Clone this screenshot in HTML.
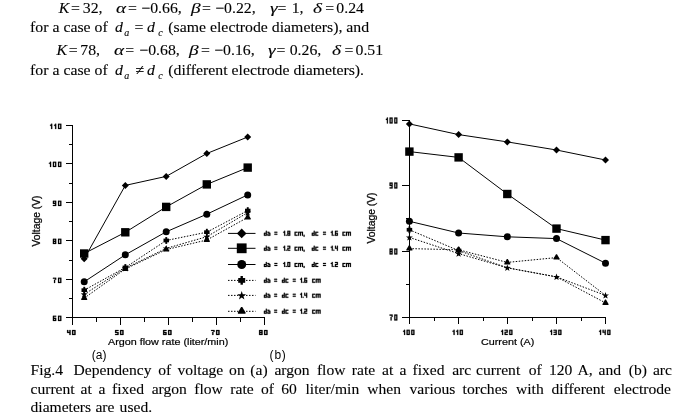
<!DOCTYPE html>
<html><head><meta charset="utf-8"><title>Fig.4</title>
<style>
html,body{margin:0;padding:0;background:#fff}
body{width:683px;height:420px;position:relative;overflow:hidden;font-family:"Liberation Serif",serif;color:#000}
.ln{position:absolute;left:0;height:0;width:683px;transform:scaleY(0.95);transform-origin:0 0}
.k{position:absolute;white-space:nowrap;-webkit-text-stroke:0.12px #000;font-size:15.8px;line-height:20px}
.i{font-style:italic}
.g{transform:scaleX(1.22);transform-origin:0 0}
.sub{font-size:10px;font-style:italic}
.cap{position:absolute;left:30.5px;top:361.2px;width:640.5px;font-size:15.8px;line-height:19.3px;text-align:justify;transform:scaleY(0.95);transform-origin:0 0}
.s{position:absolute;white-space:nowrap;font-family:"Liberation Sans",sans-serif;font-weight:bold;font-size:7.2px;line-height:8px;-webkit-text-stroke:0.2px #000}
.lg{font-size:7px;letter-spacing:0.15px;word-spacing:3.3px;transform:scaleX(0.8);transform-origin:0 0}
.a{position:absolute;white-space:nowrap;font-family:"Liberation Sans",sans-serif;font-size:9.2px;line-height:10px}
.vl{font-size:10.3px;transform:translate(-50%,-50%) rotate(-90deg);-webkit-text-stroke:0.25px #000}
.ax{-webkit-text-stroke:0.2px #000;transform:scaleX(1.172);transform-origin:0 0}
.r{text-align:right;width:40px}
.c{text-align:center;width:40px}
.p{position:absolute;white-space:nowrap;font-family:"Liberation Sans",sans-serif;font-size:12px;line-height:14px}
</style></head><body><div id="w" style="position:absolute;left:0;top:0;width:683px;height:420px;will-change:transform;opacity:0.999">
<div class="ln" style="top:12.6px"><span class="k i" style="left:58.74px;top:-15.33px">K</span><span class="k" style="left:71.00px;top:-15.33px">=</span><span class="k" style="left:82.80px;top:-15.33px">32,</span><span class="k i g" style="left:116.30px;top:-15.33px">α</span><span class="k" style="left:128.10px;top:-15.33px">=</span><span class="k" style="left:141.30px;top:-15.33px">−0.66,</span><span class="k i g" style="left:190.52px;top:-15.33px">β</span><span class="k" style="left:202.10px;top:-15.33px">=</span><span class="k" style="left:215.20px;top:-15.33px">−0.22,</span><span class="k i g" style="left:269.60px;top:-15.33px">γ</span><span class="k" style="left:277.60px;top:-15.33px">=</span><span class="k" style="left:291.70px;top:-15.33px">1,</span><span class="k i g" style="left:312.70px;top:-15.33px">δ</span><span class="k" style="left:325.20px;top:-15.33px">=</span><span class="k" style="left:336.30px;top:-15.33px">0.24</span></div><div class="ln" style="top:32.4px"><span class="k" style="left:30.10px;top:-15.33px">for a case of</span><span class="k i" style="left:115.00px;top:-15.33px">d</span><span class="k sub" style="left:124.20px;top:-9.07px">a</span><span class="k" style="left:134.60px;top:-15.33px">=</span><span class="k i" style="left:147.00px;top:-15.33px">d</span><span class="k sub" style="left:158.30px;top:-9.07px">c</span><span class="k" style="left:168.30px;top:-15.33px">(same electrode diameters), and</span></div><div class="ln" style="top:55.1px"><span class="k i" style="left:56.44px;top:-15.33px">K</span><span class="k" style="left:68.80px;top:-15.33px">=</span><span class="k" style="left:80.30px;top:-15.33px">78,</span><span class="k i g" style="left:113.50px;top:-15.33px">α</span><span class="k" style="left:125.30px;top:-15.33px">=</span><span class="k" style="left:139.30px;top:-15.33px">−0.68,</span><span class="k i g" style="left:188.92px;top:-15.33px">β</span><span class="k" style="left:201.00px;top:-15.33px">=</span><span class="k" style="left:214.20px;top:-15.33px">−0.16,</span><span class="k i g" style="left:267.60px;top:-15.33px">γ</span><span class="k" style="left:276.60px;top:-15.33px">=</span><span class="k" style="left:289.70px;top:-15.33px">0.26,</span><span class="k i g" style="left:331.90px;top:-15.33px">δ</span><span class="k" style="left:344.40px;top:-15.33px">=</span><span class="k" style="left:355.50px;top:-15.33px">0.51</span></div><div class="ln" style="top:75.3px"><span class="k" style="left:30.10px;top:-15.33px">for a case of</span><span class="k i" style="left:115.00px;top:-15.33px">d</span><span class="k sub" style="left:124.20px;top:-9.07px">a</span><span class="k" style="left:135.30px;top:-15.33px">≠</span><span class="k i" style="left:147.00px;top:-15.33px">d</span><span class="k sub" style="left:158.30px;top:-9.07px">c</span><span class="k" style="left:168.30px;top:-15.33px">(different electrode diameters).</span></div>
<svg width="683" height="420" viewBox="0 0 683 420" style="position:absolute;left:0;top:0"><g stroke="#000" stroke-width="1" fill="none" shape-rendering="crispEdges"><path d="M72.5 125V317.5H265"/><path d="M66 317.5H72.5"/><path d="M69 298.51H72.5"/><path d="M66 279.5H72.5"/><path d="M69 260.01H72.5"/><path d="M66 240.5H72.5"/><path d="M69 221.51H72.5"/><path d="M66 202.5H72.5"/><path d="M69 183.01H72.5"/><path d="M66 163.5H72.5"/><path d="M69 144.51H72.5"/><path d="M66 125.5H72.5"/><path d="M72.5 317.5V325"/><path d="M96.5 317.5V322"/><path d="M120.5 317.5V325"/><path d="M144.5 317.5V322"/><path d="M168.5 317.5V325"/><path d="M192.5 317.5V322"/><path d="M216.5 317.5V325"/><path d="M240.5 317.5V322"/><path d="M264.5 317.5V325"/><path d="M409.5 120V317.5H606"/><path d="M402 317.5H409.5"/><path d="M406 284.51H409.5"/><path d="M402 251.5H409.5"/><path d="M406 218.51H409.5"/><path d="M402 185.5H409.5"/><path d="M406 153.01H409.5"/><path d="M402 120.5H409.5"/><path d="M409.5 317.5V324"/><path d="M434.0 317.5V321"/><path d="M458.5 317.5V324"/><path d="M483.0 317.5V321"/><path d="M507.5 317.5V324"/><path d="M532.0 317.5V321"/><path d="M556.5 317.5V324"/><path d="M581.0 317.5V321"/><path d="M605.5 317.5V324"/></g><g stroke="#000" stroke-width="1" fill="none"><polyline points="84.2,258.8 125.3,185.4 166.2,176.4 206.8,153.5 247.7,137.0"/><polyline points="84.2,253.5 125.3,232.3 166.2,206.9 206.8,184.4 247.7,167.6"/><polyline points="84.2,281.8 125.3,254.8 166.2,231.8 206.8,214.2 247.7,194.9"/><polyline points="409.4,123.9 458.6,134.6 507.3,141.9 556.5,150.0 605.5,160.0"/><polyline points="409.4,151.6 458.6,157.4 507.3,194.0 556.5,228.6 605.5,240.1"/><polyline points="409.4,221.3 458.6,233.0 507.3,236.8 556.5,238.6 605.5,263.2"/></g><g stroke="#000" stroke-width="1" fill="none" stroke-dasharray="1.5 1.5"><polyline points="84.2,290.2 125.3,267.5 166.2,240.5 206.8,232.2 247.7,210.6"/><polyline points="84.2,294.3 125.3,268.2 166.2,248.4 206.8,236.7 247.7,212.6"/><polyline points="84.2,298.1 125.3,269.0 166.2,249.6 206.8,240.0 247.7,217.4"/><polyline points="409.4,229.8 458.6,250.6 507.3,267.8 556.5,276.9 605.5,295.4"/><polyline points="409.4,237.4 458.6,253.6 507.3,267.8 556.5,276.9 605.5,302.9"/><polyline points="409.4,248.6 458.6,249.8 507.3,262.4 556.5,257.6 605.5,295.4"/></g><g fill="#000" stroke="none"><path d="M84.2 255.3L87.7 258.8L84.2 262.3L80.7 258.8Z"/><path d="M125.3 181.9L128.8 185.4L125.3 188.9L121.8 185.4Z"/><path d="M166.2 172.9L169.7 176.4L166.2 179.9L162.7 176.4Z"/><path d="M206.8 150.0L210.3 153.5L206.8 157.0L203.3 153.5Z"/><path d="M247.7 133.5L251.2 137.0L247.7 140.5L244.2 137.0Z"/><rect x="80.0" y="249.3" width="8.4" height="8.4"/><rect x="121.1" y="228.1" width="8.4" height="8.4"/><rect x="162.0" y="202.7" width="8.4" height="8.4"/><rect x="202.6" y="180.2" width="8.4" height="8.4"/><rect x="243.5" y="163.4" width="8.4" height="8.4"/><circle cx="84.2" cy="281.8" r="3.5"/><circle cx="125.3" cy="254.8" r="3.5"/><circle cx="166.2" cy="231.8" r="3.5"/><circle cx="206.8" cy="214.2" r="3.5"/><circle cx="247.7" cy="194.9" r="3.5"/><rect x="81.5" y="288.3" width="5.5" height="3.7"/><rect x="83.3" y="286.8" width="1.9" height="6.8"/><rect x="122.6" y="265.6" width="5.5" height="3.7"/><rect x="124.4" y="264.1" width="1.9" height="6.8"/><rect x="163.5" y="238.6" width="5.5" height="3.7"/><rect x="165.3" y="237.1" width="1.9" height="6.8"/><rect x="204.1" y="230.3" width="5.5" height="3.7"/><rect x="205.9" y="228.8" width="1.9" height="6.8"/><rect x="245.0" y="208.7" width="5.5" height="3.7"/><rect x="246.8" y="207.2" width="1.9" height="6.8"/><path d="M84.2 290.9L85.1 293.3L87.7 293.4L85.6 295.0L86.4 297.5L84.2 296.1L82.0 297.5L82.8 295.0L80.7 293.4L83.3 293.3Z"/><path d="M125.3 264.8L126.2 267.2L128.8 267.3L126.7 268.9L127.5 271.4L125.3 270.0L123.1 271.4L123.9 268.9L121.8 267.3L124.4 267.2Z"/><path d="M166.2 245.0L167.1 247.4L169.7 247.5L167.6 249.1L168.4 251.6L166.2 250.2L164.0 251.6L164.8 249.1L162.7 247.5L165.3 247.4Z"/><path d="M206.8 233.3L207.7 235.7L210.3 235.8L208.2 237.4L209.0 239.9L206.8 238.5L204.6 239.9L205.4 237.4L203.3 235.8L205.9 235.7Z"/><path d="M247.7 209.2L248.6 211.6L251.2 211.7L249.1 213.3L249.9 215.8L247.7 214.4L245.5 215.8L246.3 213.3L244.2 211.7L246.8 211.6Z"/><path d="M83.7 294.7h1.0L87.2 299.1V300.1H81.2V299.1Z"/><path d="M124.8 265.6h1.0L128.3 270.0V271.0H122.3V270.0Z"/><path d="M165.7 246.2h1.0L169.2 250.6V251.6H163.2V250.6Z"/><path d="M206.3 236.6h1.0L209.8 241.0V242.0H203.8V241.0Z"/><path d="M247.2 214.0h1.0L250.7 218.4V219.4H244.7V218.4Z"/><path d="M409.4 120.4L412.9 123.9L409.4 127.4L405.9 123.9Z"/><path d="M458.6 131.1L462.1 134.6L458.6 138.1L455.1 134.6Z"/><path d="M507.3 138.4L510.8 141.9L507.3 145.4L503.8 141.9Z"/><path d="M556.5 146.5L560.0 150.0L556.5 153.5L553.0 150.0Z"/><path d="M605.5 156.5L609.0 160.0L605.5 163.5L602.0 160.0Z"/><rect x="405.2" y="147.4" width="8.4" height="8.4"/><rect x="454.4" y="153.2" width="8.4" height="8.4"/><rect x="503.1" y="189.8" width="8.4" height="8.4"/><rect x="552.3" y="224.4" width="8.4" height="8.4"/><rect x="601.3" y="235.9" width="8.4" height="8.4"/><circle cx="409.4" cy="221.3" r="3.5"/><circle cx="458.6" cy="233.0" r="3.5"/><circle cx="507.3" cy="236.8" r="3.5"/><circle cx="556.5" cy="238.6" r="3.5"/><circle cx="605.5" cy="263.2" r="3.5"/><rect x="406.7" y="227.9" width="5.5" height="3.7"/><rect x="408.5" y="226.4" width="1.9" height="6.8"/><rect x="455.9" y="248.7" width="5.5" height="3.7"/><rect x="457.7" y="247.2" width="1.9" height="6.8"/><path d="M409.4 234.0L410.3 236.4L412.9 236.5L410.8 238.1L411.6 240.6L409.4 239.2L407.2 240.6L408.0 238.1L405.9 236.5L408.5 236.4Z"/><path d="M458.6 250.2L459.5 252.6L462.1 252.7L460.0 254.3L460.8 256.8L458.6 255.4L456.4 256.8L457.2 254.3L455.1 252.7L457.7 252.6Z"/><path d="M507.3 264.4L508.2 266.8L510.8 266.9L508.7 268.5L509.5 271.0L507.3 269.6L505.1 271.0L505.9 268.5L503.8 266.9L506.4 266.8Z"/><path d="M556.5 273.5L557.4 275.9L560.0 276.0L557.9 277.6L558.7 280.1L556.5 278.7L554.3 280.1L555.1 277.6L553.0 276.0L555.6 275.9Z"/><path d="M605.5 292.0L606.4 294.4L609.0 294.5L606.9 296.1L607.7 298.6L605.5 297.2L603.3 298.6L604.1 296.1L602.0 294.5L604.6 294.4Z"/><path d="M408.9 245.2h1.0L412.4 249.6V250.6H406.4V249.6Z"/><path d="M458.1 246.4h1.0L461.6 250.8V251.8H455.6V250.8Z"/><path d="M506.8 259.0h1.0L510.3 263.4V264.4H504.3V263.4Z"/><path d="M556.0 254.2h1.0L559.5 258.6V259.6H553.5V258.6Z"/><path d="M605.0 299.5h1.0L608.5 303.9V304.9H602.5V303.9Z"/></g><g stroke="#000" stroke-width="1" fill="none"><path d="M228 233.4H255.5"/><path d="M228 248.3H255.5"/><path d="M228 264.5H255.5"/></g><g stroke="#000" stroke-width="1" fill="none" stroke-dasharray="1.5 1.5"><path d="M228 280.4H255.5"/><path d="M228 295.4H255.5"/><path d="M228 311.3H255.5"/></g><g fill="#000"><path d="M241.7 228.6L246.5 233.4L241.7 238.2L236.9 233.4Z"/><rect x="236.8" y="243.4" width="9.8" height="9.8"/><circle cx="241.7" cy="264.5" r="4.5"/><rect x="238.2" y="278.0" width="7.0" height="4.8"/><rect x="240.5" y="276.0" width="2.4" height="8.7"/><path d="M241.7 291.1L242.8 294.2L246.1 294.3L243.5 296.3L244.4 299.4L241.7 297.6L239.0 299.4L239.9 296.3L237.3 294.3L240.6 294.2Z"/><path d="M241.1 307.1h1.2L245.5 312.6V313.8H237.9V312.6Z"/></g></svg>
<svg width="683" height="420" viewBox="0 0 683 420" style="position:absolute;left:0;top:0"><path fill="#000" stroke="#000" stroke-width="0.22" stroke-linejoin="miter" d="M52.90 315.70h3.30v1.06h-3.30zM52.90 316.76h1.10v1.06h-1.10zM52.90 317.82h3.30v1.06h-3.30zM52.90 318.88h1.10v1.06h-1.10zM55.10 318.88h1.10v1.06h-1.10zM52.90 319.94h3.30v1.06h-3.30zM58.00 315.70h3.30v1.06h-3.30zM58.00 316.76h1.10v1.06h-1.10zM60.20 316.76h1.10v1.06h-1.10zM58.00 317.82h1.10v1.06h-1.10zM60.20 317.82h1.10v1.06h-1.10zM58.00 318.88h1.10v1.06h-1.10zM60.20 318.88h1.10v1.06h-1.10zM58.00 319.94h3.30v1.06h-3.30zM52.90 277.70h3.30v1.06h-3.30zM55.10 278.76h1.10v1.06h-1.10zM54.00 279.82h1.10v1.06h-1.10zM54.00 280.88h1.10v1.06h-1.10zM54.00 281.94h1.10v1.06h-1.10zM58.00 277.70h3.30v1.06h-3.30zM58.00 278.76h1.10v1.06h-1.10zM60.20 278.76h1.10v1.06h-1.10zM58.00 279.82h1.10v1.06h-1.10zM60.20 279.82h1.10v1.06h-1.10zM58.00 280.88h1.10v1.06h-1.10zM60.20 280.88h1.10v1.06h-1.10zM58.00 281.94h3.30v1.06h-3.30zM52.90 238.70h3.30v1.06h-3.30zM52.90 239.76h1.10v1.06h-1.10zM55.10 239.76h1.10v1.06h-1.10zM52.90 240.82h3.30v1.06h-3.30zM52.90 241.88h1.10v1.06h-1.10zM55.10 241.88h1.10v1.06h-1.10zM52.90 242.94h3.30v1.06h-3.30zM58.00 238.70h3.30v1.06h-3.30zM58.00 239.76h1.10v1.06h-1.10zM60.20 239.76h1.10v1.06h-1.10zM58.00 240.82h1.10v1.06h-1.10zM60.20 240.82h1.10v1.06h-1.10zM58.00 241.88h1.10v1.06h-1.10zM60.20 241.88h1.10v1.06h-1.10zM58.00 242.94h3.30v1.06h-3.30zM52.90 200.70h3.30v1.06h-3.30zM52.90 201.76h1.10v1.06h-1.10zM55.10 201.76h1.10v1.06h-1.10zM52.90 202.82h3.30v1.06h-3.30zM55.10 203.88h1.10v1.06h-1.10zM52.90 204.94h3.30v1.06h-3.30zM58.00 200.70h3.30v1.06h-3.30zM58.00 201.76h1.10v1.06h-1.10zM60.20 201.76h1.10v1.06h-1.10zM58.00 202.82h1.10v1.06h-1.10zM60.20 202.82h1.10v1.06h-1.10zM58.00 203.88h1.10v1.06h-1.10zM60.20 203.88h1.10v1.06h-1.10zM58.00 204.94h3.30v1.06h-3.30zM50.00 161.70h1.10v1.06h-1.10zM48.90 162.76h2.20v1.06h-2.20zM50.00 163.82h1.10v1.06h-1.10zM50.00 164.88h1.10v1.06h-1.10zM50.00 165.94h1.10v1.06h-1.10zM52.90 161.70h3.30v1.06h-3.30zM52.90 162.76h1.10v1.06h-1.10zM55.10 162.76h1.10v1.06h-1.10zM52.90 163.82h1.10v1.06h-1.10zM55.10 163.82h1.10v1.06h-1.10zM52.90 164.88h1.10v1.06h-1.10zM55.10 164.88h1.10v1.06h-1.10zM52.90 165.94h3.30v1.06h-3.30zM58.00 161.70h3.30v1.06h-3.30zM58.00 162.76h1.10v1.06h-1.10zM60.20 162.76h1.10v1.06h-1.10zM58.00 163.82h1.10v1.06h-1.10zM60.20 163.82h1.10v1.06h-1.10zM58.00 164.88h1.10v1.06h-1.10zM60.20 164.88h1.10v1.06h-1.10zM58.00 165.94h3.30v1.06h-3.30zM51.10 123.70h1.10v1.06h-1.10zM50.00 124.76h2.20v1.06h-2.20zM51.10 125.82h1.10v1.06h-1.10zM51.10 126.88h1.10v1.06h-1.10zM51.10 127.94h1.10v1.06h-1.10zM55.10 123.70h1.10v1.06h-1.10zM54.00 124.76h2.20v1.06h-2.20zM55.10 125.82h1.10v1.06h-1.10zM55.10 126.88h1.10v1.06h-1.10zM55.10 127.94h1.10v1.06h-1.10zM58.00 123.70h3.30v1.06h-3.30zM58.00 124.76h1.10v1.06h-1.10zM60.20 124.76h1.10v1.06h-1.10zM58.00 125.82h1.10v1.06h-1.10zM60.20 125.82h1.10v1.06h-1.10zM58.00 126.88h1.10v1.06h-1.10zM60.20 126.88h1.10v1.06h-1.10zM58.00 127.94h3.30v1.06h-3.30zM67.10 330.00h1.15v1.00h-1.15zM69.40 330.00h1.15v1.00h-1.15zM67.10 331.00h1.15v1.00h-1.15zM69.40 331.00h1.15v1.00h-1.15zM67.10 332.00h3.45v1.00h-3.45zM69.40 333.00h1.15v1.00h-1.15zM69.40 334.00h1.15v1.00h-1.15zM72.05 330.00h3.45v1.00h-3.45zM72.05 331.00h1.15v1.00h-1.15zM74.35 331.00h1.15v1.00h-1.15zM72.05 332.00h1.15v1.00h-1.15zM74.35 332.00h1.15v1.00h-1.15zM72.05 333.00h1.15v1.00h-1.15zM74.35 333.00h1.15v1.00h-1.15zM72.05 334.00h3.45v1.00h-3.45zM115.10 330.00h3.45v1.00h-3.45zM115.10 331.00h1.15v1.00h-1.15zM115.10 332.00h3.45v1.00h-3.45zM117.40 333.00h1.15v1.00h-1.15zM115.10 334.00h3.45v1.00h-3.45zM120.05 330.00h3.45v1.00h-3.45zM120.05 331.00h1.15v1.00h-1.15zM122.35 331.00h1.15v1.00h-1.15zM120.05 332.00h1.15v1.00h-1.15zM122.35 332.00h1.15v1.00h-1.15zM120.05 333.00h1.15v1.00h-1.15zM122.35 333.00h1.15v1.00h-1.15zM120.05 334.00h3.45v1.00h-3.45zM163.10 330.00h3.45v1.00h-3.45zM163.10 331.00h1.15v1.00h-1.15zM163.10 332.00h3.45v1.00h-3.45zM163.10 333.00h1.15v1.00h-1.15zM165.40 333.00h1.15v1.00h-1.15zM163.10 334.00h3.45v1.00h-3.45zM168.05 330.00h3.45v1.00h-3.45zM168.05 331.00h1.15v1.00h-1.15zM170.35 331.00h1.15v1.00h-1.15zM168.05 332.00h1.15v1.00h-1.15zM170.35 332.00h1.15v1.00h-1.15zM168.05 333.00h1.15v1.00h-1.15zM170.35 333.00h1.15v1.00h-1.15zM168.05 334.00h3.45v1.00h-3.45zM211.10 330.00h3.45v1.00h-3.45zM213.40 331.00h1.15v1.00h-1.15zM212.25 332.00h1.15v1.00h-1.15zM212.25 333.00h1.15v1.00h-1.15zM212.25 334.00h1.15v1.00h-1.15zM216.05 330.00h3.45v1.00h-3.45zM216.05 331.00h1.15v1.00h-1.15zM218.35 331.00h1.15v1.00h-1.15zM216.05 332.00h1.15v1.00h-1.15zM218.35 332.00h1.15v1.00h-1.15zM216.05 333.00h1.15v1.00h-1.15zM218.35 333.00h1.15v1.00h-1.15zM216.05 334.00h3.45v1.00h-3.45zM259.10 330.00h3.45v1.00h-3.45zM259.10 331.00h1.15v1.00h-1.15zM261.40 331.00h1.15v1.00h-1.15zM259.10 332.00h3.45v1.00h-3.45zM259.10 333.00h1.15v1.00h-1.15zM261.40 333.00h1.15v1.00h-1.15zM259.10 334.00h3.45v1.00h-3.45zM264.05 330.00h3.45v1.00h-3.45zM264.05 331.00h1.15v1.00h-1.15zM266.35 331.00h1.15v1.00h-1.15zM264.05 332.00h1.15v1.00h-1.15zM266.35 332.00h1.15v1.00h-1.15zM264.05 333.00h1.15v1.00h-1.15zM266.35 333.00h1.15v1.00h-1.15zM264.05 334.00h3.45v1.00h-3.45zM389.60 314.50h3.00v1.20h-3.00zM391.60 315.70h1.00v1.20h-1.00zM390.60 316.90h1.00v1.20h-1.00zM390.60 318.10h1.00v1.20h-1.00zM390.60 319.30h1.00v1.20h-1.00zM394.30 314.50h3.00v1.20h-3.00zM394.30 315.70h1.00v1.20h-1.00zM396.30 315.70h1.00v1.20h-1.00zM394.30 316.90h1.00v1.20h-1.00zM396.30 316.90h1.00v1.20h-1.00zM394.30 318.10h1.00v1.20h-1.00zM396.30 318.10h1.00v1.20h-1.00zM394.30 319.30h3.00v1.20h-3.00zM389.60 248.50h3.00v1.20h-3.00zM389.60 249.70h1.00v1.20h-1.00zM391.60 249.70h1.00v1.20h-1.00zM389.60 250.90h3.00v1.20h-3.00zM389.60 252.10h1.00v1.20h-1.00zM391.60 252.10h1.00v1.20h-1.00zM389.60 253.30h3.00v1.20h-3.00zM394.30 248.50h3.00v1.20h-3.00zM394.30 249.70h1.00v1.20h-1.00zM396.30 249.70h1.00v1.20h-1.00zM394.30 250.90h1.00v1.20h-1.00zM396.30 250.90h1.00v1.20h-1.00zM394.30 252.10h1.00v1.20h-1.00zM396.30 252.10h1.00v1.20h-1.00zM394.30 253.30h3.00v1.20h-3.00zM389.60 182.50h3.00v1.20h-3.00zM389.60 183.70h1.00v1.20h-1.00zM391.60 183.70h1.00v1.20h-1.00zM389.60 184.90h3.00v1.20h-3.00zM391.60 186.10h1.00v1.20h-1.00zM389.60 187.30h3.00v1.20h-3.00zM394.30 182.50h3.00v1.20h-3.00zM394.30 183.70h1.00v1.20h-1.00zM396.30 183.70h1.00v1.20h-1.00zM394.30 184.90h1.00v1.20h-1.00zM396.30 184.90h1.00v1.20h-1.00zM394.30 186.10h1.00v1.20h-1.00zM396.30 186.10h1.00v1.20h-1.00zM394.30 187.30h3.00v1.20h-3.00zM386.90 117.50h1.00v1.20h-1.00zM385.90 118.70h2.00v1.20h-2.00zM386.90 119.90h1.00v1.20h-1.00zM386.90 121.10h1.00v1.20h-1.00zM386.90 122.30h1.00v1.20h-1.00zM389.60 117.50h3.00v1.20h-3.00zM389.60 118.70h1.00v1.20h-1.00zM391.60 118.70h1.00v1.20h-1.00zM389.60 119.90h1.00v1.20h-1.00zM391.60 119.90h1.00v1.20h-1.00zM389.60 121.10h1.00v1.20h-1.00zM391.60 121.10h1.00v1.20h-1.00zM389.60 122.30h3.00v1.20h-3.00zM394.30 117.50h3.00v1.20h-3.00zM394.30 118.70h1.00v1.20h-1.00zM396.30 118.70h1.00v1.20h-1.00zM394.30 119.90h1.00v1.20h-1.00zM396.30 119.90h1.00v1.20h-1.00zM394.30 121.10h1.00v1.20h-1.00zM396.30 121.10h1.00v1.20h-1.00zM394.30 122.30h3.00v1.20h-3.00zM404.05 329.80h1.05v1.02h-1.05zM403.00 330.82h2.10v1.02h-2.10zM404.05 331.84h1.05v1.02h-1.05zM404.05 332.86h1.05v1.02h-1.05zM404.05 333.88h1.05v1.02h-1.05zM406.60 329.80h3.15v1.02h-3.15zM406.60 330.82h1.05v1.02h-1.05zM408.70 330.82h1.05v1.02h-1.05zM406.60 331.84h1.05v1.02h-1.05zM408.70 331.84h1.05v1.02h-1.05zM406.60 332.86h1.05v1.02h-1.05zM408.70 332.86h1.05v1.02h-1.05zM406.60 333.88h3.15v1.02h-3.15zM411.25 329.80h3.15v1.02h-3.15zM411.25 330.82h1.05v1.02h-1.05zM413.35 330.82h1.05v1.02h-1.05zM411.25 331.84h1.05v1.02h-1.05zM413.35 331.84h1.05v1.02h-1.05zM411.25 332.86h1.05v1.02h-1.05zM413.35 332.86h1.05v1.02h-1.05zM411.25 333.88h3.15v1.02h-3.15zM453.57 329.80h1.05v1.02h-1.05zM452.52 330.82h2.10v1.02h-2.10zM453.57 331.84h1.05v1.02h-1.05zM453.57 332.86h1.05v1.02h-1.05zM453.57 333.88h1.05v1.02h-1.05zM457.18 329.80h1.05v1.02h-1.05zM456.12 330.82h2.10v1.02h-2.10zM457.18 331.84h1.05v1.02h-1.05zM457.18 332.86h1.05v1.02h-1.05zM457.18 333.88h1.05v1.02h-1.05zM459.73 329.80h3.15v1.02h-3.15zM459.73 330.82h1.05v1.02h-1.05zM461.83 330.82h1.05v1.02h-1.05zM459.73 331.84h1.05v1.02h-1.05zM461.83 331.84h1.05v1.02h-1.05zM459.73 332.86h1.05v1.02h-1.05zM461.83 332.86h1.05v1.02h-1.05zM459.73 333.88h3.15v1.02h-3.15zM502.05 329.80h1.05v1.02h-1.05zM501.00 330.82h2.10v1.02h-2.10zM502.05 331.84h1.05v1.02h-1.05zM502.05 332.86h1.05v1.02h-1.05zM502.05 333.88h1.05v1.02h-1.05zM504.60 329.80h3.15v1.02h-3.15zM506.70 330.82h1.05v1.02h-1.05zM504.60 331.84h3.15v1.02h-3.15zM504.60 332.86h1.05v1.02h-1.05zM504.60 333.88h3.15v1.02h-3.15zM509.25 329.80h3.15v1.02h-3.15zM509.25 330.82h1.05v1.02h-1.05zM511.35 330.82h1.05v1.02h-1.05zM509.25 331.84h1.05v1.02h-1.05zM511.35 331.84h1.05v1.02h-1.05zM509.25 332.86h1.05v1.02h-1.05zM511.35 332.86h1.05v1.02h-1.05zM509.25 333.88h3.15v1.02h-3.15zM551.05 329.80h1.05v1.02h-1.05zM550.00 330.82h2.10v1.02h-2.10zM551.05 331.84h1.05v1.02h-1.05zM551.05 332.86h1.05v1.02h-1.05zM551.05 333.88h1.05v1.02h-1.05zM553.60 329.80h3.15v1.02h-3.15zM555.70 330.82h1.05v1.02h-1.05zM553.60 331.84h3.15v1.02h-3.15zM555.70 332.86h1.05v1.02h-1.05zM553.60 333.88h3.15v1.02h-3.15zM558.25 329.80h3.15v1.02h-3.15zM558.25 330.82h1.05v1.02h-1.05zM560.35 330.82h1.05v1.02h-1.05zM558.25 331.84h1.05v1.02h-1.05zM560.35 331.84h1.05v1.02h-1.05zM558.25 332.86h1.05v1.02h-1.05zM560.35 332.86h1.05v1.02h-1.05zM558.25 333.88h3.15v1.02h-3.15zM600.05 329.80h1.05v1.02h-1.05zM599.00 330.82h2.10v1.02h-2.10zM600.05 331.84h1.05v1.02h-1.05zM600.05 332.86h1.05v1.02h-1.05zM600.05 333.88h1.05v1.02h-1.05zM602.60 329.80h1.05v1.02h-1.05zM604.70 329.80h1.05v1.02h-1.05zM602.60 330.82h1.05v1.02h-1.05zM604.70 330.82h1.05v1.02h-1.05zM602.60 331.84h3.15v1.02h-3.15zM604.70 332.86h1.05v1.02h-1.05zM604.70 333.88h1.05v1.02h-1.05zM607.25 329.80h3.15v1.02h-3.15zM607.25 330.82h1.05v1.02h-1.05zM609.35 330.82h1.05v1.02h-1.05zM607.25 331.84h1.05v1.02h-1.05zM609.35 331.84h1.05v1.02h-1.05zM607.25 332.86h1.05v1.02h-1.05zM609.35 332.86h1.05v1.02h-1.05zM607.25 333.88h3.15v1.02h-3.15zM265.84 230.80h0.97v1.00h-0.97zM265.84 231.80h0.97v1.00h-0.97zM263.90 232.80h2.91v1.00h-2.91zM263.90 233.80h0.97v1.00h-0.97zM265.84 233.80h0.97v1.00h-0.97zM263.90 234.80h2.91v1.00h-2.91zM267.43 231.80h1.94v1.00h-1.94zM268.40 232.80h1.94v1.00h-1.94zM267.43 233.80h0.97v1.00h-0.97zM269.37 233.80h0.97v1.00h-0.97zM267.43 234.80h2.91v1.00h-2.91zM274.40 231.80h2.91v1.00h-2.91zM274.40 233.80h2.91v1.00h-2.91zM284.17 230.80h0.97v1.00h-0.97zM283.20 231.80h1.94v1.00h-1.94zM284.17 232.80h0.97v1.00h-0.97zM284.17 233.80h0.97v1.00h-0.97zM284.17 234.80h0.97v1.00h-0.97zM285.76 234.80h0.97v1.00h-0.97zM287.35 230.80h2.91v1.00h-2.91zM287.35 231.80h0.97v1.00h-0.97zM289.29 231.80h0.97v1.00h-0.97zM287.35 232.80h2.91v1.00h-2.91zM287.35 233.80h0.97v1.00h-0.97zM289.29 233.80h0.97v1.00h-0.97zM287.35 234.80h2.91v1.00h-2.91zM294.60 231.80h2.91v1.00h-2.91zM294.60 232.80h0.97v1.00h-0.97zM294.60 233.80h0.97v1.00h-0.97zM294.60 234.80h2.91v1.00h-2.91zM298.13 231.80h4.85v1.00h-4.85zM298.13 232.80h0.97v1.00h-0.97zM300.07 232.80h0.97v1.00h-0.97zM302.01 232.80h0.97v1.00h-0.97zM298.13 233.80h0.97v1.00h-0.97zM300.07 233.80h0.97v1.00h-0.97zM302.01 233.80h0.97v1.00h-0.97zM298.13 234.80h0.97v1.00h-0.97zM300.07 234.80h0.97v1.00h-0.97zM302.01 234.80h0.97v1.00h-0.97zM303.60 234.80h0.97v1.00h-0.97zM303.60 235.80h0.97v1.00h-0.97zM313.74 230.80h0.97v1.00h-0.97zM313.74 231.80h0.97v1.00h-0.97zM311.80 232.80h2.91v1.00h-2.91zM311.80 233.80h0.97v1.00h-0.97zM313.74 233.80h0.97v1.00h-0.97zM311.80 234.80h2.91v1.00h-2.91zM315.33 231.80h2.91v1.00h-2.91zM315.33 232.80h0.97v1.00h-0.97zM315.33 233.80h0.97v1.00h-0.97zM315.33 234.80h2.91v1.00h-2.91zM323.00 231.80h2.91v1.00h-2.91zM323.00 233.80h2.91v1.00h-2.91zM331.77 230.80h0.97v1.00h-0.97zM330.80 231.80h1.94v1.00h-1.94zM331.77 232.80h0.97v1.00h-0.97zM331.77 233.80h0.97v1.00h-0.97zM331.77 234.80h0.97v1.00h-0.97zM333.36 234.80h0.97v1.00h-0.97zM334.95 230.80h2.91v1.00h-2.91zM334.95 231.80h0.97v1.00h-0.97zM334.95 232.80h2.91v1.00h-2.91zM334.95 233.80h0.97v1.00h-0.97zM336.89 233.80h0.97v1.00h-0.97zM334.95 234.80h2.91v1.00h-2.91zM342.50 231.80h2.91v1.00h-2.91zM342.50 232.80h0.97v1.00h-0.97zM342.50 233.80h0.97v1.00h-0.97zM342.50 234.80h2.91v1.00h-2.91zM346.03 231.80h4.85v1.00h-4.85zM346.03 232.80h0.97v1.00h-0.97zM347.97 232.80h0.97v1.00h-0.97zM349.91 232.80h0.97v1.00h-0.97zM346.03 233.80h0.97v1.00h-0.97zM347.97 233.80h0.97v1.00h-0.97zM349.91 233.80h0.97v1.00h-0.97zM346.03 234.80h0.97v1.00h-0.97zM347.97 234.80h0.97v1.00h-0.97zM349.91 234.80h0.97v1.00h-0.97zM265.84 245.70h0.97v1.00h-0.97zM265.84 246.70h0.97v1.00h-0.97zM263.90 247.70h2.91v1.00h-2.91zM263.90 248.70h0.97v1.00h-0.97zM265.84 248.70h0.97v1.00h-0.97zM263.90 249.70h2.91v1.00h-2.91zM267.43 246.70h1.94v1.00h-1.94zM268.40 247.70h1.94v1.00h-1.94zM267.43 248.70h0.97v1.00h-0.97zM269.37 248.70h0.97v1.00h-0.97zM267.43 249.70h2.91v1.00h-2.91zM274.40 246.70h2.91v1.00h-2.91zM274.40 248.70h2.91v1.00h-2.91zM284.17 245.70h0.97v1.00h-0.97zM283.20 246.70h1.94v1.00h-1.94zM284.17 247.70h0.97v1.00h-0.97zM284.17 248.70h0.97v1.00h-0.97zM284.17 249.70h0.97v1.00h-0.97zM285.76 249.70h0.97v1.00h-0.97zM287.35 245.70h2.91v1.00h-2.91zM289.29 246.70h0.97v1.00h-0.97zM287.35 247.70h2.91v1.00h-2.91zM287.35 248.70h0.97v1.00h-0.97zM287.35 249.70h2.91v1.00h-2.91zM294.60 246.70h2.91v1.00h-2.91zM294.60 247.70h0.97v1.00h-0.97zM294.60 248.70h0.97v1.00h-0.97zM294.60 249.70h2.91v1.00h-2.91zM298.13 246.70h4.85v1.00h-4.85zM298.13 247.70h0.97v1.00h-0.97zM300.07 247.70h0.97v1.00h-0.97zM302.01 247.70h0.97v1.00h-0.97zM298.13 248.70h0.97v1.00h-0.97zM300.07 248.70h0.97v1.00h-0.97zM302.01 248.70h0.97v1.00h-0.97zM298.13 249.70h0.97v1.00h-0.97zM300.07 249.70h0.97v1.00h-0.97zM302.01 249.70h0.97v1.00h-0.97zM303.60 249.70h0.97v1.00h-0.97zM303.60 250.70h0.97v1.00h-0.97zM313.74 245.70h0.97v1.00h-0.97zM313.74 246.70h0.97v1.00h-0.97zM311.80 247.70h2.91v1.00h-2.91zM311.80 248.70h0.97v1.00h-0.97zM313.74 248.70h0.97v1.00h-0.97zM311.80 249.70h2.91v1.00h-2.91zM315.33 246.70h2.91v1.00h-2.91zM315.33 247.70h0.97v1.00h-0.97zM315.33 248.70h0.97v1.00h-0.97zM315.33 249.70h2.91v1.00h-2.91zM323.00 246.70h2.91v1.00h-2.91zM323.00 248.70h2.91v1.00h-2.91zM331.77 245.70h0.97v1.00h-0.97zM330.80 246.70h1.94v1.00h-1.94zM331.77 247.70h0.97v1.00h-0.97zM331.77 248.70h0.97v1.00h-0.97zM331.77 249.70h0.97v1.00h-0.97zM333.36 249.70h0.97v1.00h-0.97zM334.95 245.70h0.97v1.00h-0.97zM336.89 245.70h0.97v1.00h-0.97zM334.95 246.70h0.97v1.00h-0.97zM336.89 246.70h0.97v1.00h-0.97zM334.95 247.70h2.91v1.00h-2.91zM336.89 248.70h0.97v1.00h-0.97zM336.89 249.70h0.97v1.00h-0.97zM342.50 246.70h2.91v1.00h-2.91zM342.50 247.70h0.97v1.00h-0.97zM342.50 248.70h0.97v1.00h-0.97zM342.50 249.70h2.91v1.00h-2.91zM346.03 246.70h4.85v1.00h-4.85zM346.03 247.70h0.97v1.00h-0.97zM347.97 247.70h0.97v1.00h-0.97zM349.91 247.70h0.97v1.00h-0.97zM346.03 248.70h0.97v1.00h-0.97zM347.97 248.70h0.97v1.00h-0.97zM349.91 248.70h0.97v1.00h-0.97zM346.03 249.70h0.97v1.00h-0.97zM347.97 249.70h0.97v1.00h-0.97zM349.91 249.70h0.97v1.00h-0.97zM265.84 261.90h0.97v1.00h-0.97zM265.84 262.90h0.97v1.00h-0.97zM263.90 263.90h2.91v1.00h-2.91zM263.90 264.90h0.97v1.00h-0.97zM265.84 264.90h0.97v1.00h-0.97zM263.90 265.90h2.91v1.00h-2.91zM267.43 262.90h1.94v1.00h-1.94zM268.40 263.90h1.94v1.00h-1.94zM267.43 264.90h0.97v1.00h-0.97zM269.37 264.90h0.97v1.00h-0.97zM267.43 265.90h2.91v1.00h-2.91zM274.40 262.90h2.91v1.00h-2.91zM274.40 264.90h2.91v1.00h-2.91zM284.17 261.90h0.97v1.00h-0.97zM283.20 262.90h1.94v1.00h-1.94zM284.17 263.90h0.97v1.00h-0.97zM284.17 264.90h0.97v1.00h-0.97zM284.17 265.90h0.97v1.00h-0.97zM285.76 265.90h0.97v1.00h-0.97zM287.35 261.90h2.91v1.00h-2.91zM287.35 262.90h0.97v1.00h-0.97zM289.29 262.90h0.97v1.00h-0.97zM287.35 263.90h0.97v1.00h-0.97zM289.29 263.90h0.97v1.00h-0.97zM287.35 264.90h0.97v1.00h-0.97zM289.29 264.90h0.97v1.00h-0.97zM287.35 265.90h2.91v1.00h-2.91zM294.60 262.90h2.91v1.00h-2.91zM294.60 263.90h0.97v1.00h-0.97zM294.60 264.90h0.97v1.00h-0.97zM294.60 265.90h2.91v1.00h-2.91zM298.13 262.90h4.85v1.00h-4.85zM298.13 263.90h0.97v1.00h-0.97zM300.07 263.90h0.97v1.00h-0.97zM302.01 263.90h0.97v1.00h-0.97zM298.13 264.90h0.97v1.00h-0.97zM300.07 264.90h0.97v1.00h-0.97zM302.01 264.90h0.97v1.00h-0.97zM298.13 265.90h0.97v1.00h-0.97zM300.07 265.90h0.97v1.00h-0.97zM302.01 265.90h0.97v1.00h-0.97zM303.60 265.90h0.97v1.00h-0.97zM303.60 266.90h0.97v1.00h-0.97zM313.74 261.90h0.97v1.00h-0.97zM313.74 262.90h0.97v1.00h-0.97zM311.80 263.90h2.91v1.00h-2.91zM311.80 264.90h0.97v1.00h-0.97zM313.74 264.90h0.97v1.00h-0.97zM311.80 265.90h2.91v1.00h-2.91zM315.33 262.90h2.91v1.00h-2.91zM315.33 263.90h0.97v1.00h-0.97zM315.33 264.90h0.97v1.00h-0.97zM315.33 265.90h2.91v1.00h-2.91zM323.00 262.90h2.91v1.00h-2.91zM323.00 264.90h2.91v1.00h-2.91zM331.77 261.90h0.97v1.00h-0.97zM330.80 262.90h1.94v1.00h-1.94zM331.77 263.90h0.97v1.00h-0.97zM331.77 264.90h0.97v1.00h-0.97zM331.77 265.90h0.97v1.00h-0.97zM333.36 265.90h0.97v1.00h-0.97zM334.95 261.90h2.91v1.00h-2.91zM336.89 262.90h0.97v1.00h-0.97zM334.95 263.90h2.91v1.00h-2.91zM334.95 264.90h0.97v1.00h-0.97zM334.95 265.90h2.91v1.00h-2.91zM342.50 262.90h2.91v1.00h-2.91zM342.50 263.90h0.97v1.00h-0.97zM342.50 264.90h0.97v1.00h-0.97zM342.50 265.90h2.91v1.00h-2.91zM346.03 262.90h4.85v1.00h-4.85zM346.03 263.90h0.97v1.00h-0.97zM347.97 263.90h0.97v1.00h-0.97zM349.91 263.90h0.97v1.00h-0.97zM346.03 264.90h0.97v1.00h-0.97zM347.97 264.90h0.97v1.00h-0.97zM349.91 264.90h0.97v1.00h-0.97zM346.03 265.90h0.97v1.00h-0.97zM347.97 265.90h0.97v1.00h-0.97zM349.91 265.90h0.97v1.00h-0.97zM265.84 277.80h0.97v1.00h-0.97zM265.84 278.80h0.97v1.00h-0.97zM263.90 279.80h2.91v1.00h-2.91zM263.90 280.80h0.97v1.00h-0.97zM265.84 280.80h0.97v1.00h-0.97zM263.90 281.80h2.91v1.00h-2.91zM267.43 278.80h1.94v1.00h-1.94zM268.40 279.80h1.94v1.00h-1.94zM267.43 280.80h0.97v1.00h-0.97zM269.37 280.80h0.97v1.00h-0.97zM267.43 281.80h2.91v1.00h-2.91zM274.20 278.80h2.91v1.00h-2.91zM274.20 280.80h2.91v1.00h-2.91zM283.84 277.80h0.97v1.00h-0.97zM283.84 278.80h0.97v1.00h-0.97zM281.90 279.80h2.91v1.00h-2.91zM281.90 280.80h0.97v1.00h-0.97zM283.84 280.80h0.97v1.00h-0.97zM281.90 281.80h2.91v1.00h-2.91zM285.43 278.80h2.91v1.00h-2.91zM285.43 279.80h0.97v1.00h-0.97zM285.43 280.80h0.97v1.00h-0.97zM285.43 281.80h2.91v1.00h-2.91zM292.80 278.80h2.91v1.00h-2.91zM292.80 280.80h2.91v1.00h-2.91zM301.07 277.80h0.97v1.00h-0.97zM300.10 278.80h1.94v1.00h-1.94zM301.07 279.80h0.97v1.00h-0.97zM301.07 280.80h0.97v1.00h-0.97zM301.07 281.80h0.97v1.00h-0.97zM302.66 281.80h0.97v1.00h-0.97zM304.25 277.80h2.91v1.00h-2.91zM304.25 278.80h0.97v1.00h-0.97zM304.25 279.80h2.91v1.00h-2.91zM304.25 280.80h0.97v1.00h-0.97zM306.19 280.80h0.97v1.00h-0.97zM304.25 281.80h2.91v1.00h-2.91zM312.20 278.80h2.91v1.00h-2.91zM312.20 279.80h0.97v1.00h-0.97zM312.20 280.80h0.97v1.00h-0.97zM312.20 281.80h2.91v1.00h-2.91zM315.73 278.80h4.85v1.00h-4.85zM315.73 279.80h0.97v1.00h-0.97zM317.67 279.80h0.97v1.00h-0.97zM319.61 279.80h0.97v1.00h-0.97zM315.73 280.80h0.97v1.00h-0.97zM317.67 280.80h0.97v1.00h-0.97zM319.61 280.80h0.97v1.00h-0.97zM315.73 281.80h0.97v1.00h-0.97zM317.67 281.80h0.97v1.00h-0.97zM319.61 281.80h0.97v1.00h-0.97zM265.84 292.80h0.97v1.00h-0.97zM265.84 293.80h0.97v1.00h-0.97zM263.90 294.80h2.91v1.00h-2.91zM263.90 295.80h0.97v1.00h-0.97zM265.84 295.80h0.97v1.00h-0.97zM263.90 296.80h2.91v1.00h-2.91zM267.43 293.80h1.94v1.00h-1.94zM268.40 294.80h1.94v1.00h-1.94zM267.43 295.80h0.97v1.00h-0.97zM269.37 295.80h0.97v1.00h-0.97zM267.43 296.80h2.91v1.00h-2.91zM274.20 293.80h2.91v1.00h-2.91zM274.20 295.80h2.91v1.00h-2.91zM283.84 292.80h0.97v1.00h-0.97zM283.84 293.80h0.97v1.00h-0.97zM281.90 294.80h2.91v1.00h-2.91zM281.90 295.80h0.97v1.00h-0.97zM283.84 295.80h0.97v1.00h-0.97zM281.90 296.80h2.91v1.00h-2.91zM285.43 293.80h2.91v1.00h-2.91zM285.43 294.80h0.97v1.00h-0.97zM285.43 295.80h0.97v1.00h-0.97zM285.43 296.80h2.91v1.00h-2.91zM292.80 293.80h2.91v1.00h-2.91zM292.80 295.80h2.91v1.00h-2.91zM301.07 292.80h0.97v1.00h-0.97zM300.10 293.80h1.94v1.00h-1.94zM301.07 294.80h0.97v1.00h-0.97zM301.07 295.80h0.97v1.00h-0.97zM301.07 296.80h0.97v1.00h-0.97zM302.66 296.80h0.97v1.00h-0.97zM304.25 292.80h0.97v1.00h-0.97zM306.19 292.80h0.97v1.00h-0.97zM304.25 293.80h0.97v1.00h-0.97zM306.19 293.80h0.97v1.00h-0.97zM304.25 294.80h2.91v1.00h-2.91zM306.19 295.80h0.97v1.00h-0.97zM306.19 296.80h0.97v1.00h-0.97zM312.20 293.80h2.91v1.00h-2.91zM312.20 294.80h0.97v1.00h-0.97zM312.20 295.80h0.97v1.00h-0.97zM312.20 296.80h2.91v1.00h-2.91zM315.73 293.80h4.85v1.00h-4.85zM315.73 294.80h0.97v1.00h-0.97zM317.67 294.80h0.97v1.00h-0.97zM319.61 294.80h0.97v1.00h-0.97zM315.73 295.80h0.97v1.00h-0.97zM317.67 295.80h0.97v1.00h-0.97zM319.61 295.80h0.97v1.00h-0.97zM315.73 296.80h0.97v1.00h-0.97zM317.67 296.80h0.97v1.00h-0.97zM319.61 296.80h0.97v1.00h-0.97zM265.84 308.70h0.97v1.00h-0.97zM265.84 309.70h0.97v1.00h-0.97zM263.90 310.70h2.91v1.00h-2.91zM263.90 311.70h0.97v1.00h-0.97zM265.84 311.70h0.97v1.00h-0.97zM263.90 312.70h2.91v1.00h-2.91zM267.43 309.70h1.94v1.00h-1.94zM268.40 310.70h1.94v1.00h-1.94zM267.43 311.70h0.97v1.00h-0.97zM269.37 311.70h0.97v1.00h-0.97zM267.43 312.70h2.91v1.00h-2.91zM274.20 309.70h2.91v1.00h-2.91zM274.20 311.70h2.91v1.00h-2.91zM283.84 308.70h0.97v1.00h-0.97zM283.84 309.70h0.97v1.00h-0.97zM281.90 310.70h2.91v1.00h-2.91zM281.90 311.70h0.97v1.00h-0.97zM283.84 311.70h0.97v1.00h-0.97zM281.90 312.70h2.91v1.00h-2.91zM285.43 309.70h2.91v1.00h-2.91zM285.43 310.70h0.97v1.00h-0.97zM285.43 311.70h0.97v1.00h-0.97zM285.43 312.70h2.91v1.00h-2.91zM292.80 309.70h2.91v1.00h-2.91zM292.80 311.70h2.91v1.00h-2.91zM301.07 308.70h0.97v1.00h-0.97zM300.10 309.70h1.94v1.00h-1.94zM301.07 310.70h0.97v1.00h-0.97zM301.07 311.70h0.97v1.00h-0.97zM301.07 312.70h0.97v1.00h-0.97zM302.66 312.70h0.97v1.00h-0.97zM304.25 308.70h2.91v1.00h-2.91zM306.19 309.70h0.97v1.00h-0.97zM304.25 310.70h2.91v1.00h-2.91zM304.25 311.70h0.97v1.00h-0.97zM304.25 312.70h2.91v1.00h-2.91zM312.20 309.70h2.91v1.00h-2.91zM312.20 310.70h0.97v1.00h-0.97zM312.20 311.70h0.97v1.00h-0.97zM312.20 312.70h2.91v1.00h-2.91zM315.73 309.70h4.85v1.00h-4.85zM315.73 310.70h0.97v1.00h-0.97zM317.67 310.70h0.97v1.00h-0.97zM319.61 310.70h0.97v1.00h-0.97zM315.73 311.70h0.97v1.00h-0.97zM317.67 311.70h0.97v1.00h-0.97zM319.61 311.70h0.97v1.00h-0.97zM315.73 312.70h0.97v1.00h-0.97zM317.67 312.70h0.97v1.00h-0.97zM319.61 312.70h0.97v1.00h-0.97z"/></svg>
<div class="a ax" style="left:107.8px;top:336.6px">Argon flow rate (liter/min)</div>
<div class="a vl" style="left:36.9px;top:221px">Voltage (V)</div>
<div class="a ax" style="left:481px;top:336.6px">Current (A)</div>
<div class="a vl" style="left:372px;top:217.5px">Voltage (V)</div>
<div class="p" style="left:91.8px;top:347.6px">(a)</div>
<div class="p" style="left:269.6px;top:347.6px;letter-spacing:0.8px">(b)</div>
<div class="ln" style="top:375.4px"><span class="k" style="left:30.50px;top:-15.27px;font-size:15.6px">Fig.4</span><span class="k" style="left:73.50px;top:-15.27px;font-size:15.6px">Dependency</span><span class="k" style="left:158.30px;top:-15.27px;font-size:15.6px">of</span><span class="k" style="left:177.40px;top:-15.27px;font-size:15.6px">voltage</span><span class="k" style="left:229.10px;top:-15.27px;font-size:15.6px">on</span><span class="k" style="left:250.30px;top:-15.27px;font-size:15.6px">(a)</span><span class="k" style="left:274.40px;top:-15.27px;font-size:15.6px">argon</span><span class="k" style="left:316.90px;top:-15.27px;font-size:15.6px">flow</span><span class="k" style="left:351.80px;top:-15.27px;font-size:15.6px">rate</span><span class="k" style="left:382.10px;top:-15.27px;font-size:15.6px">at</span><span class="k" style="left:399.60px;top:-15.27px;font-size:15.6px">a</span><span class="k" style="left:412.50px;top:-15.27px;font-size:15.6px">fixed</span><span class="k" style="left:452.20px;top:-15.27px;font-size:15.6px">arc</span><span class="k" style="left:476.10px;top:-15.27px;font-size:15.6px">current</span><span class="k" style="left:528.80px;top:-15.27px;font-size:15.6px">of</span><span class="k" style="left:549.00px;top:-15.27px;font-size:15.6px">120</span><span class="k" style="left:577.40px;top:-15.27px;font-size:15.6px">A,</span><span class="k" style="left:598.50px;top:-15.27px;font-size:15.6px">and</span><span class="k" style="left:628.70px;top:-15.27px;font-size:15.6px">(b)</span><span class="k" style="left:652.90px;top:-15.27px;font-size:15.6px">arc</span></div><div class="ln" style="top:394.1px"><span class="k" style="left:30.50px;top:-15.27px;font-size:15.6px">current</span><span class="k" style="left:80.60px;top:-15.27px;font-size:15.6px">at</span><span class="k" style="left:98.40px;top:-15.27px;font-size:15.6px">a</span><span class="k" style="left:112.00px;top:-15.27px;font-size:15.6px">fixed</span><span class="k" style="left:151.70px;top:-15.27px;font-size:15.6px">argon</span><span class="k" style="left:194.20px;top:-15.27px;font-size:15.6px">flow</span><span class="k" style="left:230.30px;top:-15.27px;font-size:15.6px">rate</span><span class="k" style="left:261.00px;top:-15.27px;font-size:15.6px">of</span><span class="k" style="left:281.30px;top:-15.27px;font-size:15.6px">60</span><span class="k" style="left:305.50px;top:-15.27px;font-size:15.6px">liter/min</span><span class="k" style="left:367.20px;top:-15.27px;font-size:15.6px">when</span><span class="k" style="left:409.50px;top:-15.27px;font-size:15.6px">various</span><span class="k" style="left:462.60px;top:-15.27px;font-size:15.6px">torches</span><span class="k" style="left:516.00px;top:-15.27px;font-size:15.6px">with</span><span class="k" style="left:551.50px;top:-15.27px;font-size:15.6px">different</span><span class="k" style="left:613.80px;top:-15.27px;font-size:15.6px">electrode</span></div><div class="ln" style="top:412.3px"><span class="k" style="left:30.50px;top:-15.27px;font-size:15.6px">diameters</span><span class="k" style="left:95.40px;top:-15.27px;font-size:15.6px">are</span><span class="k" style="left:119.60px;top:-15.27px;font-size:15.6px">used.</span></div>
</div></body></html>
